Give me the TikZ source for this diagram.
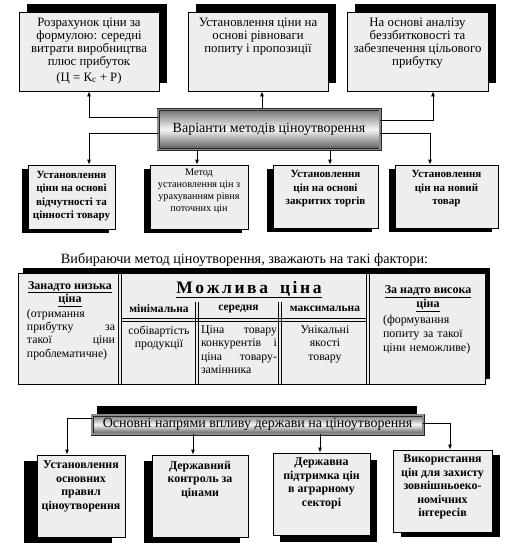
\documentclass[tikz,border=0pt]{standalone}
\usepackage{fontspec}
\setmainfont{Liberation Serif}
\usetikzlibrary{arrows.meta,shadows,calc}
\definecolor{boxgray}{HTML}{EEEEEE}
\begin{document}
\begin{tikzpicture}[x=1pt,y=-1pt,
  box/.style={draw=black, line width=0.8pt, fill=boxgray, inner sep=0pt},
  shTR/.style={general shadow={fill=black, shadow xshift=8pt, shadow yshift=8pt}},
  shBL/.style={general shadow={fill=black, shadow xshift=-6pt, shadow yshift=-4pt}},
  arr/.style={draw=black, line width=0.8pt, -{Latex[length=5pt,width=4pt]}},
  ln/.style={draw=black, line width=0.8pt},
  titlebox/.style={draw=black!85, line width=0.8pt, double=black!45, double distance=1.4pt,
     top color=black!55, bottom color=black!65, middle color=black!4, inner sep=0pt},
  txt/.style={align=center, inner sep=0pt, anchor=north},
  topf/.style={font=\fontsize{12.8}{13}\selectfont},
  midf/.style={font=\fontsize{11}{13.3}\selectfont\bfseries},
  botf/.style={font=\fontsize{11.9}{13.5}\selectfont\bfseries},
  tabf/.style={font=\fontsize{11.8}{13.3}\selectfont},
  sep/.style={draw=black, line width=0.9pt},
]
\useasboundingbox (0,0) rectangle (505,551);

% ---------- top boxes ----------
\node[box, shTR, minimum width=140pt, minimum height=79pt] (a1) at (89,51.5) {};
\node[box, shTR, minimum width=140pt, minimum height=79pt] (a2) at (258,51.5) {};
\node[box, shTR, minimum width=141pt, minimum height=79pt] (a3) at (417.5,51.5) {};
\node[txt, topf] (ta1) at (89,17.5) {Розрахунок ціни за\\формулою: середні\\витрати виробництва\\плюс прибуток\\[3pt](Ц = К\textsubscript{с} + Р)};
\node[txt, topf] (ta2) at (258,17.5) {Установлення ціни на\\основі рівноваги\\попиту і пропозиції};
\node[txt, topf] (ta3) at (417.5,17.5) {На основі аналізу\\беззбитковості та\\забезпечення цільового\\прибутку};

% ---------- title 1 ----------
\node[titlebox, minimum width=222pt, minimum height=40pt] (t1) at (269,129.5)
  {\fontsize{14}{16}\selectfont Варіанти методів ціноутворення};

% ---------- second row boxes ----------
\node[box, shBL, minimum width=87pt, minimum height=64pt] (b1) at (71.5,197) {};
\node[box, shBL, minimum width=98pt, minimum height=64pt] (b2) at (199,197) {};
\node[box, shBL, minimum width=105pt, minimum height=63pt] (b3) at (325.5,196.5) {};
\node[box, shBL, minimum width=103pt, minimum height=63pt] (b4) at (446.5,196.5) {};
\node[txt, midf] (tb1) at (71.5,171) {Установлення\\ціни на основі\\відчутності та\\цінності товару};
\node[txt, font=\fontsize{10.2}{12}\selectfont] (tb2) at (199,168.5) {Метод\\установлення цін з\\урахуванням рівня\\поточних цін};
\node[txt, midf] (tb3) at (325.5,170.5) {Установлення\\цін на основі\\закритих торгів};
\node[txt, midf] (tb4) at (446.5,170.5) {Установлення\\цін на новий\\товар};

% connectors, part 1
\draw[arr] (t1.west |- 0,117) -| (a1.south);
\draw[arr] (t1.north -| 262,0) -- (a2.south -| 262,0);
\draw[arr] (t1.east |- 0,120) -| (a3.south -| 433,0);
\draw[arr] (t1.west |- 0,133) -| (b1.north -| 89,0);
\draw[arr] (t1.south -| 197,0) -- (b2.north -| 197,0);
\draw[arr] (t1.south -| 330,0) -- (b3.north -| 330,0);
\draw[arr] (t1.east |- 0,133) -| (b4.north -| 430,0);

% ---------- intro text ----------
\node[inner sep=0pt, font=\fontsize{14.2}{16}\selectfont] (intro) at (244.5,260)
  {Вибираючи метод ціноутворення, зважають на такі фактори:};

% ---------- table ----------
\node[box, line width=1pt, general shadow={fill=black, shadow xshift=5pt, shadow yshift=5pt},
      minimum width=467pt, minimum height=111pt] (tab) at (251.5,328.5) {};
% column separators (double lines)
\draw[sep] ($(tab.north west)+(101,0)$) -- ($(tab.south west)+(101,0)$);
\draw[sep] ($(tab.north west)+(104,0)$) -- ($(tab.south west)+(104,0)$);
\draw[sep] ($(tab.north west)+(349,0)$) -- ($(tab.south west)+(349,0)$);
\draw[sep] ($(tab.north west)+(352,0)$) -- ($(tab.south west)+(352,0)$);
\draw[sep] ($(tab.south west)+(178,-83)$) -- ($(tab.south west)+(178,0)$);
\draw[sep] ($(tab.south west)+(181,-83)$) -- ($(tab.south west)+(181,0)$);
\draw[sep] ($(tab.south west)+(261,-83)$) -- ($(tab.south west)+(261,0)$);
\draw[sep] ($(tab.south west)+(264,-83)$) -- ($(tab.south west)+(264,0)$);
\draw[sep] ($(tab.north west)+(104,45.5)$) -- ($(tab.north west)+(349,45.5)$);
\draw[sep] ($(tab.north west)+(104,48.5)$) -- ($(tab.north west)+(349,48.5)$);

\node[inner sep=0pt, font=\fontsize{17.5}{19}\selectfont\bfseries] (hdr) at (249,289.5)
  {\underline{М\hspace{2.6pt}о\hspace{2.6pt}ж\hspace{2.6pt}л\hspace{2.6pt}и\hspace{2.6pt}в\hspace{2.6pt}а\hspace{12pt}ц\hspace{2.6pt}і\hspace{2.6pt}н\hspace{2.6pt}а}};
\node[inner sep=0pt, font=\fontsize{11.5}{12}\selectfont\bfseries] (h1) at (159,309) {мінімальна};
\node[inner sep=0pt, font=\fontsize{11.5}{12}\selectfont\bfseries] (h2) at (238.5,309) {середня};
\node[inner sep=0pt, font=\fontsize{11.5}{12}\selectfont\bfseries] (h3) at (325,309) {максимальна};

\node[txt, tabf] (v1) at (159,325.5) {собівартість\\продукції};
\node[txt, tabf, align=left, text width=76pt] (v2) at (239,325.5)
  {Ціна \hfill товару\\конкурентів \hfill і\\ціна \hfill товару-\\замінника};
\node[txt, tabf] (v3) at (325,325.5) {Унікальні\\якості\\товару};

\node[txt, font=\fontsize{12}{13.5}\selectfont\bfseries] (l1) at (70,281)
  {\underline{Занадто низька}\\\underline{ціна}};
\node[txt, tabf, align=left, text width=88pt] (l2) at (71,309)
  {(отримання\\прибутку \hfill за\\такої \hfill ціни\\проблематичне)};

\node[txt, font=\fontsize{12}{14}\selectfont\bfseries] (r1) at (428,285.5)
  {\underline{За надто висока}\\\underline{ціна}};
\node[txt, tabf, align=left, text width=92pt, font=\fontsize{12}{14.3}\selectfont] (r2) at (429,314.5)
  {(формування\\попиту за такої\\ціни неможливе)};

% ---------- title 2 ----------
\fill[black] (97,406) rectangle (417,420);
\node[titlebox, minimum width=331pt, minimum height=19pt] (t2) at (257.5,424.5)
  {\fontsize{14}{15}\selectfont Основні напрями впливу держави на ціноутворення};

% ---------- bottom boxes ----------
\node[box, general shadow={fill=black, shadow xshift=-13pt, shadow yshift=-6pt},
      minimum width=88pt, minimum height=82pt] (d1) at (81,496) {};
\node[box, general shadow={fill=black, shadow xshift=-8pt, shadow yshift=-6pt},
      minimum width=96pt, minimum height=82pt] (d2) at (200,496) {};
\node[box, general shadow={fill=black, shadow xshift=7pt, shadow yshift=-7pt},
      minimum width=97pt, minimum height=82pt] (d3) at (321.5,494) {};
\node[box, general shadow={fill=black, shadow xshift=8pt, shadow yshift=-5pt},
      minimum width=99pt, minimum height=82pt] (d4) at (442.5,491) {};
\node[txt, botf] (td1) at (81,461) {Установлення\\основних\\правил\\ціноутворення};
\node[txt, botf] (td2) at (200,461) {Державний\\контроль за\\цінами};
\node[txt, botf] (td3) at (321.5,458) {Державна\\підтримка цін\\в аграрному\\секторі};
\node[txt, botf] (td4) at (442.5,455) {Використання\\цін для захисту\\зовнішньоеко-\\номічних\\інтересів};

\draw[arr] (t2.west |- 0,418) -| (d1.north -| 67,0);
\draw[arr] (t2.south -| 193,0) -- (d2.north -| 193,0);
\draw[arr] (t2.south -| 320,0) -- (d3.north -| 320,0);
\draw[arr] (t2.east |- 0,423) -| (d4.north -| 450,0);
\end{tikzpicture}
\end{document}
